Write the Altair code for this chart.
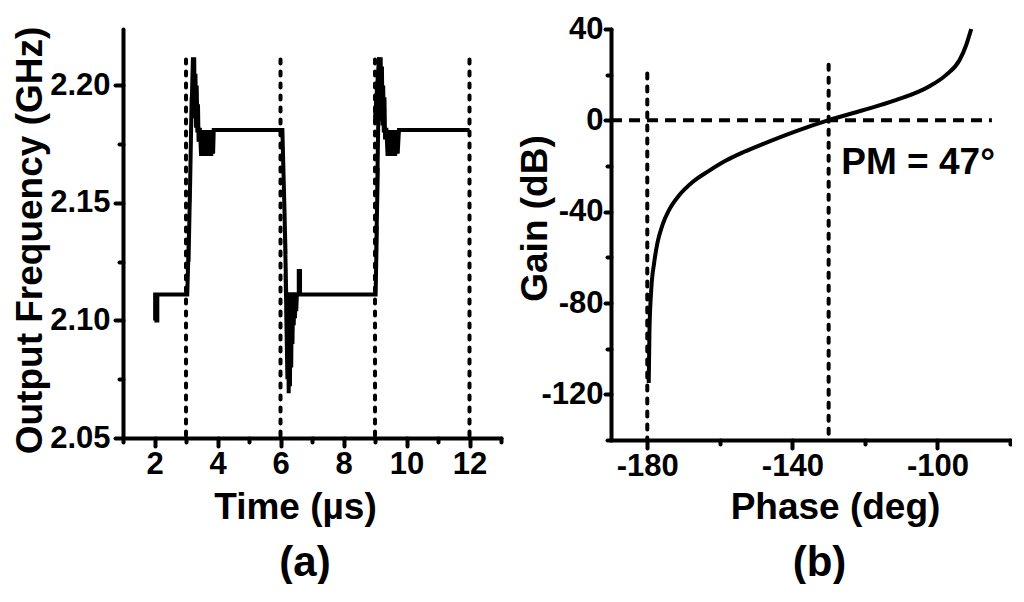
import altair as alt
import pandas as pd

FONT = "Liberation Sans"

# ---------------- panel (a): output frequency vs time ----------------
t_start = [2.02, 2.02, 2.06, 2.06, 2.09, 2.09, 3.04]
f_start = [2.100, 2.111, 2.111, 2.100, 2.100, 2.111, 2.111]

t_rise1 = [3.10, 3.08, 3.14, 3.12, 3.18, 3.16, 3.22, 3.24, 3.26, 3.28, 3.30, 3.32,
           3.34, 3.36, 3.38, 3.40, 3.44, 3.48, 3.52, 3.56, 3.60, 3.64, 3.68, 3.72,
           3.76, 3.80, 3.84, 3.86, 3.88, 6.06]
f_rise1 = [2.140, 2.125, 2.165, 2.150, 2.195, 2.180, 2.212, 2.190, 2.212, 2.186, 2.205, 2.182,
           2.200, 2.180, 2.192, 2.176, 2.182, 2.170, 2.181, 2.170, 2.181, 2.170, 2.181, 2.170,
           2.181, 2.170, 2.181, 2.171, 2.181, 2.181]

t_fall = [6.10, 6.08, 6.13, 6.11, 6.16, 6.14, 6.18, 6.16, 6.20, 6.18, 6.22, 6.24,
          6.26, 6.28, 6.30, 6.32, 6.34, 6.36, 6.38, 6.40, 6.42, 6.44, 6.46, 6.48,
          6.50, 6.52, 6.58, 6.58, 6.62, 6.62, 9.02]
f_fall = [2.160, 2.170, 2.145, 2.155, 2.128, 2.138, 2.112, 2.120, 2.095, 2.105, 2.075, 2.110,
          2.069, 2.112, 2.072, 2.110, 2.080, 2.112, 2.090, 2.110, 2.098, 2.112, 2.101, 2.111,
          2.104, 2.111, 2.111, 2.121, 2.121, 2.111, 2.111]

t_rise2 = [9.06, 9.04, 9.09, 9.07, 9.11, 9.00, 9.13, 9.15, 9.18, 9.20, 9.22, 9.24,
           9.26, 9.28, 9.30, 9.32, 9.36, 9.40, 9.44, 9.48, 9.52, 9.56, 9.60, 9.64,
           9.68, 9.72, 9.76, 12.0]
f_rise2 = [2.140, 2.130, 2.165, 2.155, 2.190, 2.186, 2.212, 2.190, 2.212, 2.185, 2.208, 2.183,
           2.200, 2.180, 2.195, 2.177, 2.182, 2.170, 2.181, 2.170, 2.181, 2.170, 2.181, 2.170,
           2.181, 2.171, 2.181, 2.181]

step_marks_t = [3, 6, 9, 12]
step_marks_top = 2.211

# ---------------- panel (b): gain vs phase ----------------
phase_deg = [-179.6, -179.4, -178.9, -178.1, -177.2, -175.8, -174.0, -171.2, -167.5,
             -162.9, -158.3, -153.6, -148.5, -139.3, -130.0, -120.8, -111.5, -102.2,
             -97.6, -93.9, -92.1, -90.7]
gain_db = [-115.0, -92.7, -74.0, -62.4, -53.7, -45.8, -39.3, -32.8, -27.0,
           -22.0, -17.6, -14.0, -10.6, -4.9, 0.1, 4.3, 8.8, 14.9,
           19.9, 26.4, 32.9, 40.0]

pm_marks_phase = [-180, -130]
pm_marks_top = [20.5, 24.3]
zero_line_phase = [-190, -85]
pm_label = "PM = 47°"
pm_label_pos = [-126.5, -23.4]

# ---------------- build tables ----------------
t_us = t_start + t_rise1 + t_fall + t_rise2
freq = f_start + f_rise1 + f_fall + f_rise2
assert len(t_us) == len(freq)
left_df = pd.DataFrame({"t": t_us, "f": freq, "order": list(range(len(t_us)))})
left_rules = pd.DataFrame({"t": step_marks_t, "f": [step_marks_top] * len(step_marks_t),
                           "f_bottom": [2.05] * len(step_marks_t)})

right_df = pd.DataFrame({"phase": phase_deg, "gain": gain_db})
right_vrules = pd.DataFrame({"phase": pm_marks_phase, "gain": pm_marks_top,
                             "gain_bottom": [-140] * len(pm_marks_phase)})
right_hrule = pd.DataFrame({"phase": [zero_line_phase[0]], "phase_end": [zero_line_phase[1]],
                            "gain": [0]})
right_text = pd.DataFrame({"phase": [pm_label_pos[0]], "gain": [pm_label_pos[1]], "label": [pm_label]})

# ---------------- axes ----------------
def tick_cond(test, major, minor):
    return {"condition": {"test": test, "value": major}, "value": minor}

common_axis = dict(grid=False, labelOverlap=False, labelFlush=False, labelBound=False,
                   tickCap="round", domainCap="round")

ax_left_x = alt.Axis(values=list(range(1, 14)),
                     labelExpr="datum.value % 2 == 0 ? '' + datum.value : ''",
                     tickSize=tick_cond("datum.value % 2 == 0", 8, 4),
                     labelPadding=3,
                     title="Time (µs)", titleX=172, titleY=51,
                     titleAlign="center", titleBaseline="top", **common_axis)
ax_left_y = alt.Axis(values=[2.05, 2.075, 2.1, 2.125, 2.15, 2.175, 2.2], format=".2f",
                     labelExpr="round(datum.value*1000) % 50 == 0 ? datum.label : ''",
                     tickSize=tick_cond("round(datum.value*1000) % 50 == 0", 8, 4),
                     labelPadding=5,
                     title="Output Frequency (GHz)", titleX=-74, titleY=211,
                     titleAlign="center", titleBaseline="bottom", titleAngle=270, **common_axis)

ax_right_x = alt.Axis(values=list(range(-180, -79, 20)),
                      labelExpr="(datum.value + 180) % 40 == 0 ? '' + datum.value : ''",
                      tickSize=tick_cond("(datum.value + 180) % 40 == 0", 8, 4),
                      labelPadding=3,
                      title="Phase (deg)", titleX=224, titleY=49,
                      titleAlign="center", titleBaseline="top", **common_axis)
ax_right_y = alt.Axis(values=list(range(-140, 41, 20)),
                      labelExpr="datum.value % 40 == 0 ? '' + datum.value : ''",
                      tickSize=tick_cond("datum.value % 40 == 0", 6, 4),
                      labelPadding=2,
                      title="Gain (dB)", titleX=-57, titleY=189,
                      titleAlign="center", titleBaseline="bottom", titleAngle=270, **common_axis)

sc_lx = alt.Scale(domain=[1, 13], nice=False, zero=False)
sc_ly = alt.Scale(domain=[2.05, 2.224], nice=False, zero=False)
sc_rx = alt.Scale(domain=[-190, -80], nice=False, zero=False)
sc_ry = alt.Scale(domain=[-140, 40], nice=False, zero=False)

# ---------------- panel (a) ----------------
left_rule_layer = alt.Chart(left_rules).mark_rule(
    color="black", strokeWidth=4, strokeDash=[4, 8], strokeCap="round"
).encode(
    x=alt.X("t:Q", scale=sc_lx, axis=ax_left_x),
    y=alt.Y("f:Q", scale=sc_ly, axis=ax_left_y),
    y2=alt.Y2("f_bottom:Q"),
)
left_line_layer = alt.Chart(left_df).mark_line(
    color="black", strokeWidth=4, strokeJoin="miter"
).encode(
    x=alt.X("t:Q", scale=sc_lx, axis=ax_left_x),
    y=alt.Y("f:Q", scale=sc_ly, axis=ax_left_y),
    order=alt.Order("order:Q"),
)
left = alt.layer(left_rule_layer, left_line_layer).properties(
    width=378, height=409,
    title=alt.TitleParams("(a)", orient="bottom", anchor="middle", frame="group",
                          fontSize=42, font=FONT, fontWeight="bold", color="black",
                          offset=18, dx=-7),
)

# ---------------- panel (b) ----------------
right_vrule_layer = alt.Chart(right_vrules).mark_rule(
    color="black", strokeWidth=4, strokeDash=[5, 8], strokeCap="round"
).encode(
    x=alt.X("phase:Q", scale=sc_rx, axis=ax_right_x),
    y=alt.Y("gain:Q", scale=sc_ry, axis=ax_right_y),
    y2=alt.Y2("gain_bottom:Q"),
)
right_hrule_layer = alt.Chart(right_hrule).mark_rule(
    color="black", strokeWidth=4, strokeDash=[11, 7]
).encode(
    x=alt.X("phase:Q", scale=sc_rx, axis=ax_right_x),
    x2=alt.X2("phase_end:Q"),
    y=alt.Y("gain:Q", scale=sc_ry, axis=ax_right_y),
)
right_line_layer = alt.Chart(right_df).mark_line(
    color="black", strokeWidth=4, interpolate="monotone"
).encode(
    x=alt.X("phase:Q", scale=sc_rx, axis=ax_right_x),
    y=alt.Y("gain:Q", scale=sc_ry, axis=ax_right_y),
)
right_text_layer = alt.Chart(right_text).mark_text(
    align="left", baseline="alphabetic", font=FONT, fontWeight="bold",
    fontSize=37, color="black"
).encode(
    x=alt.X("phase:Q", scale=sc_rx, axis=ax_right_x),
    y=alt.Y("gain:Q", scale=sc_ry, axis=ax_right_y),
    text="label:N",
)
right = alt.layer(right_vrule_layer, right_hrule_layer, right_line_layer, right_text_layer).properties(
    width=399, height=411,
    title=alt.TitleParams("(b)", orient="bottom", anchor="middle", frame="group",
                          fontSize=42, font=FONT, fontWeight="bold", color="black",
                          offset=18, dx=9),
)

chart = alt.hconcat(left, right, spacing=13).properties(
    padding={"left": 2, "top": 5, "right": 0, "bottom": 0},
    background="white",
).configure_view(stroke=None).configure_axis(
    domainColor="black", domainWidth=4, tickColor="black", tickWidth=4,
    labelFont=FONT, labelFontWeight="bold", labelFontSize=31, labelColor="black",
    titleFont=FONT, titleFontWeight="bold", titleFontSize=37, titleColor="black",
)

chart.save("out.html", embed_options={"renderer": "svg", "actions": False})
